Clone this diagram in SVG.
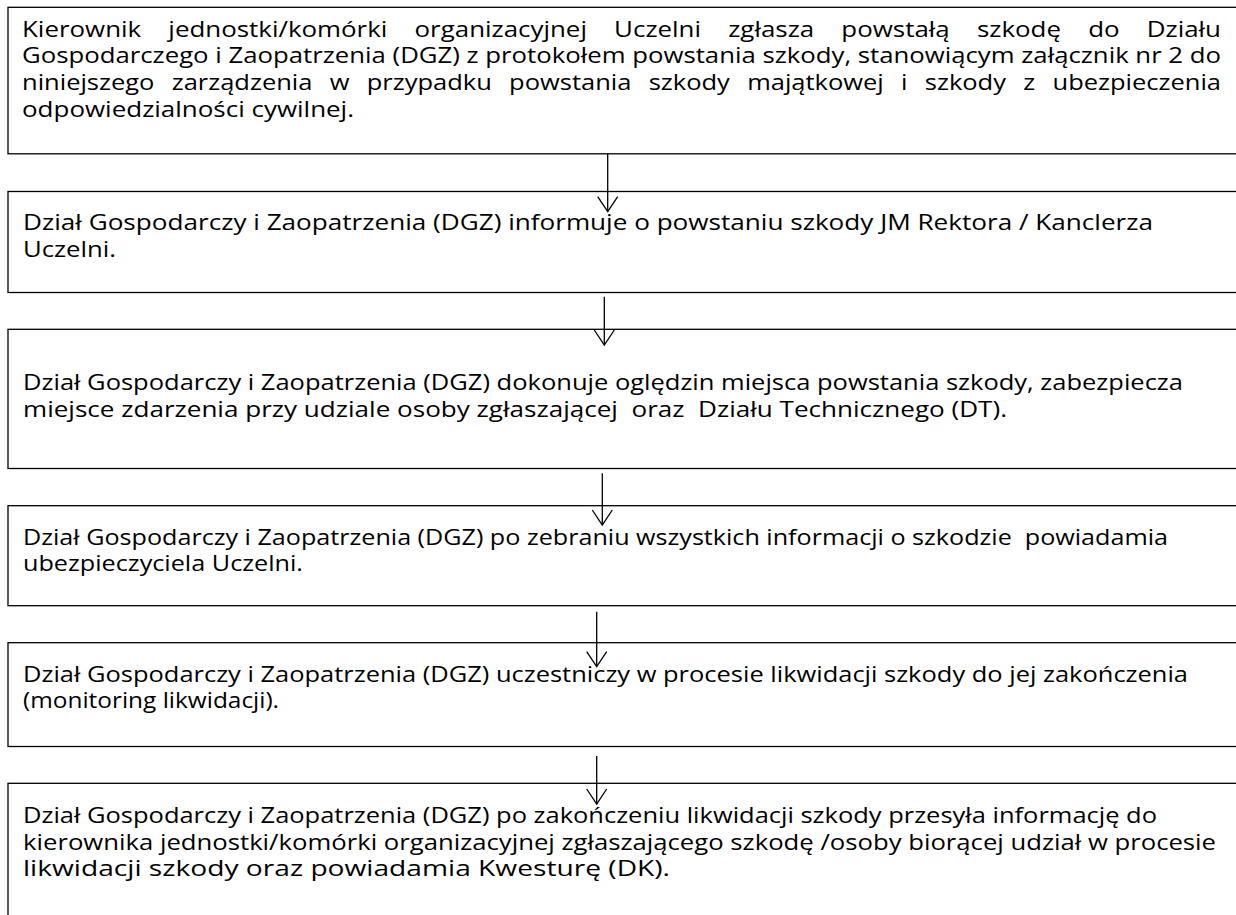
<svg xmlns="http://www.w3.org/2000/svg" width="1236" height="915" viewBox="0 0 1236 915">
<style>
.box{fill:#fff;stroke:#000;stroke-width:1.3}
.t{font-family:"Open Sans","Noto Sans","Liberation Sans",sans-serif;font-size:21.5px;fill:#000}
.arr{stroke:#000;stroke-width:1.3;fill:none}
</style>
<defs>
<marker id="ah" markerUnits="userSpaceOnUse" markerWidth="30" markerHeight="30" viewBox="-20 -15 30 30" refX="0" refY="0" orient="auto">
<path d="M-15,-10 L0,0 L-15,10" fill="none" stroke="#000" stroke-width="1.3"/>
</marker>
</defs>
<rect width="1236" height="915" fill="#fff"/>
<g id="n1">
<rect class="box" x="8" y="7.3" width="1240" height="146.5"/>
<text class="t" x="22" y="36.5" textLength="1199" lengthAdjust="spacingAndGlyphs" style="word-spacing:17px">Kierownik jednostki/komórki organizacyjnej Uczelni zgłasza powstałą szkodę do Działu</text>
<text class="t" x="22" y="63.2" textLength="1199" lengthAdjust="spacingAndGlyphs">Gospodarczego i Zaopatrzenia (DGZ) z protokołem powstania szkody, stanowiącym załącznik nr 2 do</text>
<text class="t" x="22" y="89.9" textLength="1199" lengthAdjust="spacingAndGlyphs" style="word-spacing:9px">niniejszego zarządzenia w przypadku powstania szkody majątkowej i szkody z ubezpieczenia</text>
<text class="t" x="22" y="116.6" textLength="332" lengthAdjust="spacingAndGlyphs">odpowiedzialności cywilnej.</text>
</g>
<g id="n2">
<rect class="box" x="8" y="191.5" width="1240" height="101"/>
<text class="t" x="23" y="230" textLength="1130" lengthAdjust="spacingAndGlyphs">Dział Gospodarczy i Zaopatrzenia (DGZ) informuje o powstaniu szkody JM Rektora / Kanclerza</text>
<text class="t" x="23" y="256.7" textLength="93" lengthAdjust="spacingAndGlyphs">Uczelni.</text>
</g>
<g id="n3">
<rect class="box" x="8" y="329.3" width="1240" height="139.2"/>
<text class="t" x="23" y="390" textLength="1160" lengthAdjust="spacingAndGlyphs">Dział Gospodarczy i Zaopatrzenia (DGZ) dokonuje oględzin miejsca powstania szkody, zabezpiecza</text>
<text class="t" x="23" y="416.7" textLength="984" lengthAdjust="spacingAndGlyphs" xml:space="preserve">miejsce zdarzenia przy udziale osoby zgłaszającej  oraz  Działu Technicznego (DT).</text>
</g>
<g id="n4">
<rect class="box" x="8" y="505.7" width="1240" height="100"/>
<text class="t" x="23" y="544.5" textLength="1145" lengthAdjust="spacingAndGlyphs" xml:space="preserve">Dział Gospodarczy i Zaopatrzenia (DGZ) po zebraniu wszystkich informacji o szkodzie  powiadamia</text>
<text class="t" x="23" y="571.2" textLength="280" lengthAdjust="spacingAndGlyphs">ubezpieczyciela Uczelni.</text>
</g>
<g id="n5">
<rect class="box" x="8" y="642.7" width="1240" height="103.8"/>
<text class="t" x="23" y="681.7" textLength="1165" lengthAdjust="spacingAndGlyphs">Dział Gospodarczy i Zaopatrzenia (DGZ) uczestniczy w procesie likwidacji szkody do jej zakończenia</text>
<text class="t" x="23" y="708.4" textLength="256" lengthAdjust="spacingAndGlyphs">(monitoring likwidacji).</text>
</g>
<g id="n6">
<rect class="box" x="8" y="783.3" width="1240" height="150"/>
<text class="t" x="23" y="823" textLength="1134" lengthAdjust="spacingAndGlyphs">Dział Gospodarczy i Zaopatrzenia (DGZ) po zakończeniu likwidacji szkody przesyła informację do</text>
<text class="t" x="23" y="849.7" textLength="1193" lengthAdjust="spacingAndGlyphs">kierownika jednostki/komórki organizacyjnej zgłaszającego szkodę /osoby biorącej udział w procesie</text>
<text class="t" x="23" y="876.4" textLength="647" lengthAdjust="spacingAndGlyphs">likwidacji szkody oraz powiadamia Kwesturę (DK).</text>
</g>
<g id="connectors">
<line class="arr" x1="607.7" y1="153.8" x2="607.7" y2="211.7" marker-end="url(#ah)"/>
<line class="arr" x1="604.3" y1="296.7" x2="604.3" y2="345" marker-end="url(#ah)"/>
<line class="arr" x1="602.3" y1="473.3" x2="602.3" y2="525" marker-end="url(#ah)"/>
<line class="arr" x1="596.7" y1="611.7" x2="596.7" y2="666.7" marker-end="url(#ah)"/>
<line class="arr" x1="596.7" y1="756" x2="596.7" y2="804" marker-end="url(#ah)"/>
</g>
</svg>
